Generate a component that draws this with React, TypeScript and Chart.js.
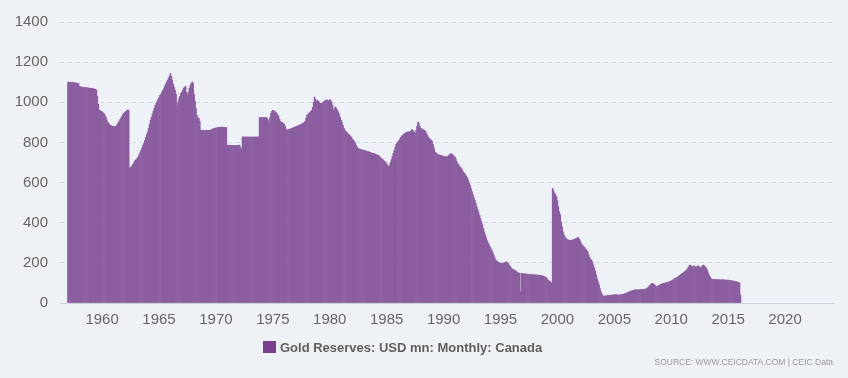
import React, { useEffect, useRef } from "react";
import { Chart, registerables } from "chart.js";

Chart.register(...registerables);

// Monthly values, first month = January 1957
const startYear = 1957;

const values1957to1966 = [
  1100, 1101, 1100, 1100, 1099, 1100, 1098, 1097, 1096, 1095, 1095, 1094,
  1080, 1078, 1076, 1075, 1075, 1074, 1073, 1073, 1072, 1072, 1071, 1070,
  1070, 1069, 1068, 1067, 1066, 1065, 1060, 1030, 990, 962, 958, 955,
  952, 948, 945, 935, 925, 912, 900, 895, 888, 884, 882, 880,
  880, 878, 880, 882, 890, 898, 905, 915, 922, 930, 940, 945,
  950, 955, 958, 962, 960, 672, 675, 680, 687, 695, 705, 711,
  715, 722, 728, 740, 750, 761, 772, 785, 794, 810, 825, 840,
  852, 870, 890, 910, 925, 940, 955, 970, 985, 995, 1005, 1015,
  1025, 1035, 1040, 1050, 1060, 1068, 1080, 1090, 1100, 1110, 1120, 1130,
  1143, 1130, 1110, 1090, 1075, 1060, 1040, 985, 1000, 1018, 1030, 1045,
];

const values1967to1976 = [
  1050, 1060, 1070, 1076, 1080, 1050, 1035, 1050, 1070, 1085, 1095, 1101,
  1095, 1040, 1005, 970, 935, 922, 920, 905, 862, 860, 860, 860,
  860, 860, 860, 860, 860, 860, 861, 862, 865, 868, 870, 872,
  872, 873, 874, 875, 875, 876, 876, 876, 875, 875, 875, 875,
  786, 786, 786, 786, 786, 786, 786, 786, 786, 786, 786, 786,
  786, 786, 775, 765, 827, 827, 827, 827, 827, 827, 827, 827,
  827, 827, 827, 827, 827, 827, 827, 827, 827, 827, 924, 924,
  924, 924, 924, 924, 924, 924, 920, 912, 905, 925, 945, 955,
  960, 958, 955, 950, 945, 940, 930, 915, 905, 900, 900, 895,
  890, 880, 866, 862, 862, 865, 866, 868, 870, 872, 874, 876,
];

const values1977to1986 = [
  878, 880, 882, 884, 886, 888, 890, 893, 896, 900, 905, 920,
  935, 940, 945, 950, 955, 960, 975, 1000, 1026, 1015, 1005, 1010,
  1005, 1000, 995, 993, 995, 1000, 1005, 1008, 1010, 1012, 1010, 1005,
  1013, 1010, 1000, 985, 960, 970, 977, 970, 960, 952, 940, 925,
  910, 900, 885, 870, 861, 855, 850, 845, 840, 836, 830, 825,
  815, 811, 805, 795, 785, 775, 770, 768, 766, 765, 763, 762,
  761, 760, 758, 756, 755, 753, 752, 750, 748, 746, 745, 744,
  742, 740, 738, 736, 733, 728, 722, 718, 714, 710, 705, 700,
  695, 686, 678, 685, 700, 715, 730, 746, 760, 775, 790, 798,
  803, 810, 818, 826, 832, 836, 840, 845, 848, 850, 852, 852,
];

const values1987to1996 = [
  852, 855, 860, 864, 858, 850, 845, 860, 880, 902, 895, 880,
  870, 868, 865, 862, 860, 855, 845, 835, 827, 820, 815, 811,
  805, 790, 770, 753, 748, 745, 740, 738, 736, 735, 734, 732,
  732, 730, 728, 728, 730, 733, 738, 742, 745, 742, 736, 730,
  728, 718, 705, 695, 688, 680, 676, 670, 660, 652, 646, 640,
  632, 625, 612, 598, 587, 570, 555, 540, 525, 512, 498, 480,
  465, 450, 435, 420, 405, 390, 372, 355, 340, 325, 310, 300,
  290, 280, 270, 262, 250, 238, 225, 214, 210, 205, 203, 200,
  198, 197, 197, 198, 200, 203, 205, 203, 198, 190, 184, 178,
  172, 168, 165, 164, 160, 156, 152, 150, 148, 56, 148, 147,
];

const values1997to2006 = [
  146, 145, 145, 144, 144, 143, 143, 142, 142, 142, 141, 141,
  140, 140, 139, 139, 139, 138, 138, 137, 136, 134, 132, 131,
  128, 122, 116, 112, 108, 104, 100, 571, 560, 548, 540, 530,
  510, 480, 455, 440, 404, 380, 355, 340, 330, 322, 318, 315,
  313, 312, 312, 313, 315, 316, 318, 320, 322, 325, 327, 318,
  310, 297, 290, 285, 280, 275, 268, 262, 255, 240, 228, 218,
  214, 205, 190, 175, 160, 140, 120, 105, 90, 70, 56, 45,
  36, 35, 35, 35, 36, 37, 38, 38, 38, 39, 40, 40,
  40, 41, 41, 41, 40, 40, 41, 42, 42, 43, 44, 46,
  48, 50, 52, 54, 56, 58, 60, 62, 63, 64, 65, 65,
];

const values2007to2016 = [
  66, 66, 66, 67, 67, 67, 68, 68, 68, 70, 72, 76,
  80, 85, 90, 95, 98, 96, 92, 88, 84, 82, 84, 88,
  90, 92, 95, 97, 98, 99, 100, 101, 102, 104, 106, 108,
  110, 113, 116, 120, 123, 125, 127, 130, 134, 138, 142, 145,
  148, 152, 156, 160, 164, 170, 178, 186, 189, 185, 182, 181,
  185, 182, 178, 181, 186, 183, 178, 176, 180, 186, 189, 184,
  180, 174, 165, 150, 139, 130, 122, 118, 118, 118, 117, 117,
  117, 117, 116, 116, 115, 115, 116, 116, 115, 114, 114, 114,
  114, 113, 112, 112, 110, 110, 108, 108, 106, 105, 104, 102,
  100, 40,
];

const xTickYears = [1960, 1965, 1970, 1975, 1980, 1985, 1990, 1995, 2000, 2005, 2010, 2015, 2020];
const yTickValues = [0, 200, 400, 600, 800, 1000, 1200, 1400];
const seriesLabel = "Gold Reserves: USD mn: Monthly: Canada";
const sourceText = "SOURCE: WWW.CEICDATA.COM | CEIC Data";

const BG = "#eef2f6";
const BAR = "#8b5ea0";
const LEGEND_BOX = "#7a3f8e";
const FONT = "'Liberation Sans', Arial, sans-serif";

export default function App() {
  const ref = useRef<HTMLCanvasElement>(null);

  useEffect(() => {
    const values = [
      ...values1957to1966,
      ...values1967to1976,
      ...values1977to1986,
      ...values1987to1996,
      ...values1997to2006,
      ...values2007to2016,
    ];
    const points = values.map((v, i) => ({ x: startYear + i / 12, y: v }));

    const chart = new Chart(ref.current as HTMLCanvasElement, {
      type: "bar",
      data: {
        datasets: [
          {
            label: seriesLabel,
            data: points as any,
            backgroundColor: BAR,
            borderWidth: 0,
            barPercentage: 1,
            categoryPercentage: 1,
          },
        ],
      },
      options: {
        responsive: false,
        animation: false,
        devicePixelRatio: 1,
        layout: { padding: { left: 0, right: 14, top: 22, bottom: 51 } },
        plugins: {
          legend: { display: false },
          tooltip: { enabled: false },
        },
        scales: {
          x: {
            type: "linear",
            min: 1956.3,
            max: 2024.3,
            offset: false,
            grid: { display: false, offset: false },
            border: { display: true, color: "#ccd3dc", width: 1 },
            ticks: {
              padding: 0,
              color: "#666666",
              font: { family: FONT, size: 15 },
              maxRotation: 0,
              autoSkip: false,
              callback: (v: any) => String(v),
            },
            afterBuildTicks: (s: any) => {
              s.ticks = xTickYears.map((v) => ({ value: v }));
            },
            afterFit: (s: any) => {
              s.height = 24;
            },
          },
          y: {
            min: 0,
            max: 1400,
            grid: { color: "#d6dbe1", drawTicks: false },
            border: { display: false, dash: [4, 4] },
            ticks: {
              padding: 12,
              color: "#666666",
              font: { family: FONT, size: 15 },
              callback: (v: any) => String(v),
            },
            afterBuildTicks: (s: any) => {
              s.ticks = yTickValues.map((v) => ({ value: v }));
            },
            afterFit: (s: any) => {
              s.width = 60;
            },
          },
        },
      },
    });
    return () => chart.destroy();
  }, []);

  return (
    <div
      style={{
        position: "absolute",
        left: 0,
        top: 0,
        width: 848,
        height: 378,
        background: BG,
        overflow: "hidden",
      }}
    >
      <canvas ref={ref} width={848} height={378} style={{ display: "block" }} />
      <div
        style={{
          position: "absolute",
          left: 263,
          top: 338,
          height: 18,
          display: "flex",
          alignItems: "center",
          fontFamily: FONT,
          fontSize: 13,
          fontWeight: "bold",
          color: "#5e5e5e",
          whiteSpace: "nowrap",
        }}
      >
        <span
          style={{
            display: "inline-block",
            width: 13,
            height: 12,
            background: LEGEND_BOX,
            marginRight: 4,
          }}
        />
        <span>{seriesLabel}</span>
      </div>
      <div
        style={{
          position: "absolute",
          right: 848 - 833,
          top: 357,
          fontFamily: FONT,
          fontSize: 8.5,
          color: "#9a9a9a",
          whiteSpace: "nowrap",
          lineHeight: "10px",
        }}
      >
        {sourceText}
      </div>
    </div>
  );
}
